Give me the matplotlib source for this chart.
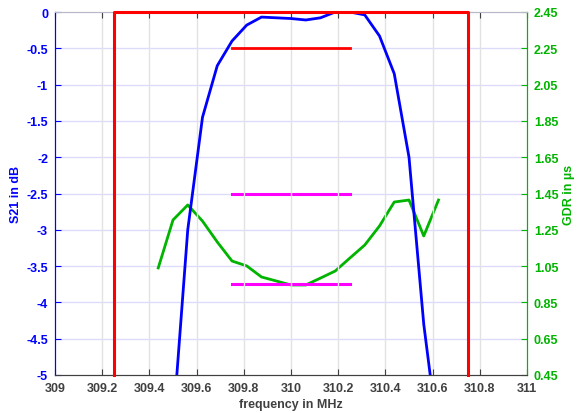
import numpy as np
import matplotlib
matplotlib.use("Agg")
import matplotlib.pyplot as plt

plt.rcParams["font.family"] = ["Liberation Sans", "DejaVu Sans"]
plt.rcParams["font.weight"] = "bold"

# S21 transmission (dB)
freq_s21 = [309.5, 309.5625, 309.625, 309.6875, 309.75, 309.8125, 309.875,
            309.9375, 310.0, 310.0625, 310.125, 310.1875, 310.25, 310.3125,
            310.375, 310.4375, 310.5, 310.5625, 310.625]
s21 = [-5.7, -3.0, -1.45, -0.74, -0.40, -0.18, -0.07, -0.08, -0.09, -0.11,
       -0.08, 0.0, 0.0, -0.04, -0.33, -0.85, -2.0, -4.3, -5.9]

# group delay (us)
freq_gdr = [309.4375, 309.5, 309.5625, 309.625, 309.6875, 309.75, 309.8125,
            309.875, 309.9375, 310.0, 310.0625, 310.125, 310.1875, 310.25,
            310.3125, 310.375, 310.4375, 310.5, 310.5625, 310.625]
gdr = [1.04, 1.304, 1.387, 1.298, 1.183, 1.078, 1.051, 0.99, 0.968, 0.946,
       0.946, 0.984, 1.023, 1.095, 1.166, 1.271, 1.403, 1.414, 1.216, 1.414]

# specification mask
mask_f = [309.25, 309.25, 310.75, 310.75]
mask_db = [-5, 0, 0, -5]
ripple_f = [309.75, 310.25]
ripple_db = -0.5
gdr_lims = [1.45, 0.95]

BLUE = "#0000ff"
GREEN = "#00b400"
GRAY = "#404040"

fig = plt.figure(figsize=(5.82, 4.14), dpi=100)
ax = fig.add_axes([55 / 582, 38 / 414, 472 / 582, 363 / 414])
ax2 = ax.twinx()
ax.set_zorder(2); ax.patch.set_visible(False)
ax2.set_zorder(1)

ax.set_xlim(309, 311)
ax.set_ylim(-5, 0)
ax2.set_ylim(0.45, 2.45)

xt = np.round(np.arange(309, 311.01, 0.2), 1)
ax.set_xticks(xt)
ax.set_xticklabels([f"{v:g}" for v in xt])
yt = np.round(np.arange(-5, 0.01, 0.5), 1)
ax.set_yticks(yt)
ax.set_yticklabels([f"{v:g}" for v in yt])
yt2 = np.round(np.arange(0.45, 2.46, 0.2), 2)
ax2.set_yticks(yt2)
ax2.set_yticklabels([f"{v:.2f}" for v in yt2])

# grid
for v in xt[1:-1]:
    ax.axvline(v, color="#e2e2e2", lw=1.0, zorder=0)
for v in yt[1:-1]:
    ax2.axhline(v * 0.4 + 2.45, color="#dcdcfa", lw=1.0, zorder=0)

ax2.plot(freq_gdr, gdr, color=GREEN, lw=2.0)
for g in gdr_lims:
    ax2.plot(ripple_f, [g, g], color="#ff00ff", lw=2.2)

ax.plot(freq_s21, s21, color=BLUE, lw=2.0, zorder=3)
ax.plot(mask_f, mask_db, color="#ff0000", lw=2.2, clip_on=False, zorder=4)
ax.plot(ripple_f, [ripple_db, ripple_db], color="#ff0000", lw=2.0, zorder=4)

ax.tick_params(axis="x", direction="in", top=True, length=4, colors=GRAY,
               labelsize=9, pad=5)
ax.tick_params(axis="y", direction="in", length=4, colors=BLUE, labelsize=9,
               pad=5)
ax2.tick_params(axis="y", direction="in", length=4, colors=GREEN, labelsize=9,
                pad=5)

for a in (ax, ax2):
    a.spines["left"].set_color(BLUE)
    a.spines["right"].set_color(GREEN)
    a.spines["bottom"].set_color(GRAY)
    a.spines["top"].set_color("#b8b8c8")

ax.set_xlabel("frequency in MHz", color=GRAY, fontsize=9, fontweight="bold",
              labelpad=3)
ax.set_ylabel("S21 in dB", color=BLUE, fontsize=9, fontweight="bold",
              labelpad=3)
ax2.set_ylabel("GDR in \u00b5s", color=GREEN, fontsize=9, fontweight="bold",
               labelpad=3)

fig.savefig("out.png", dpi=100)
